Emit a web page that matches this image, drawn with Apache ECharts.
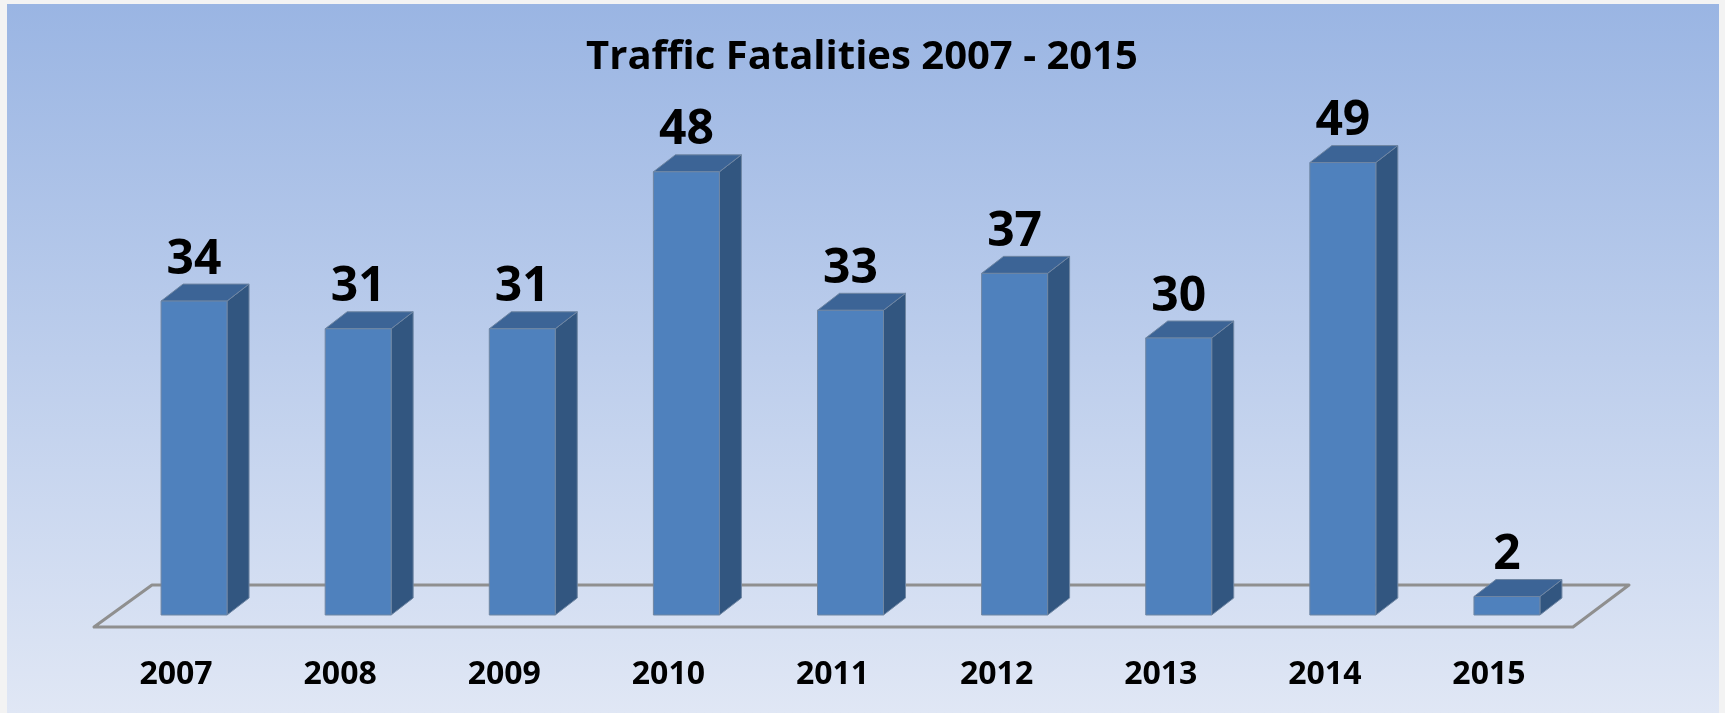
<!DOCTYPE html>
<html>
<head>
<meta charset="utf-8">
<title>Traffic Fatalities 2007 - 2015</title>
<script src="https://cdn.jsdelivr.net/npm/echarts@6/dist/echarts.min.js"></script>
<style>
html, body { margin: 0; padding: 0; background: #f3f3f3; }
#chart { width: 1725px; height: 713px; }
</style>
</head>
<body>
<div id="chart"></div>
<script>
const categories = ['2007', '2008', '2009', '2010', '2011', '2012', '2013', '2014', '2015']
const fatalities = [34, 31, 31, 48, 33, 37, 30, 49, 2]
const yMax = 60

const font = '"Open Sans"'
const chart = echarts.init(document.getElementById('chart'))

// floor of the fake 3d box, takes its size from the grid
function renderFloor(params, api) {
  const r = params.coordSys
  const y = r.y + r.height
  return {
    type: 'polygon',
    shape: {
      points: [
        [r.x, y],
        [r.x + r.width + 2, y],
        [r.x + r.width + 58, y - 42],
        [r.x + 58, y - 42]
      ]
    },
    style: { fill: 'none', stroke: '#8f8f8f', lineWidth: 3, lineJoin: 'round' }
  }
}

// front, side and top face of one bar
function renderBar(params, api) {
  const i = api.value(0)
  const v = api.value(1)
  const w = api.size([1, 0])[0] * 0.402
  const base = api.coord([i, 0])
  const top = api.coord([i, v])
  const x0 = base[0] + 18 - w / 2
  const x1 = x0 + w
  const y0 = base[1] - 12
  const y1 = top[1] - 12
  const dx = 22
  const dy = 17
  const edge = { stroke: '#6f86a3', lineWidth: 1 }
  return {
    type: 'group',
    children: [
      {
        type: 'polygon',
        shape: { points: [[x1, y0], [x1 + dx, y0 - dy], [x1 + dx, y1 - dy], [x1, y1]] },
        style: { fill: '#325680', ...edge }
      },
      {
        type: 'polygon',
        shape: { points: [[x0, y1], [x1, y1], [x1 + dx, y1 - dy], [x0 + dx, y1 - dy]] },
        style: { fill: '#3c6496', ...edge }
      },
      {
        type: 'rect',
        shape: { x: x0, y: y1, width: w, height: y0 - y1 },
        style: { fill: '#4f81bd', ...edge }
      },
      {
        type: 'text',
        style: {
          text: String(v),
          x: x0 + w / 2,
          y: y1 - 41,
          align: 'center',
          verticalAlign: 'middle',
          fill: '#000',
          font: 'bold 48px ' + font
        }
      }
    ]
  }
}

chart.setOption({
  animation: false,
  graphic: [
    {
      type: 'rect',
      z: -1,
      shape: { x: 7, y: 4, width: 1712, height: 709 },
      style: {
        fill: new echarts.graphic.LinearGradient(0, 0, 0, 1, [
          { offset: 0, color: '#9ab5e3' },
          { offset: 1, color: '#e0e7f5' }
        ])
      }
    }
  ],
  title: {
    text: 'Traffic Fatalities 2007 - 2015',
    left: 857,
    top: 53,
    textAlign: 'center',
    textVerticalAlign: 'middle',
    textStyle: { fontFamily: 'Open Sans', fontWeight: 'bold', fontSize: 40, color: '#000' }
  },
  grid: { left: 94, width: 1477, top: 73, height: 554 },
  xAxis: {
    type: 'category',
    data: categories,
    axisLine: { show: false },
    axisTick: { show: false },
    axisLabel: { margin: 32, fontFamily: 'Open Sans', fontWeight: 'bold', fontSize: 32, color: '#000' }
  },
  yAxis: {
    type: 'value',
    min: 0,
    max: yMax,
    show: false
  },
  series: [
    {
      type: 'custom',
      silent: true,
      z: 1,
      data: [0],
      renderItem: renderFloor
    },
    {
      type: 'custom',
      name: 'Traffic Fatalities',
      z: 2,
      encode: { x: 0, y: 1 },
      data: fatalities.map((v, i) => [i, v]),
      renderItem: renderBar
    }
  ]
})
</script>
</body>
</html>
